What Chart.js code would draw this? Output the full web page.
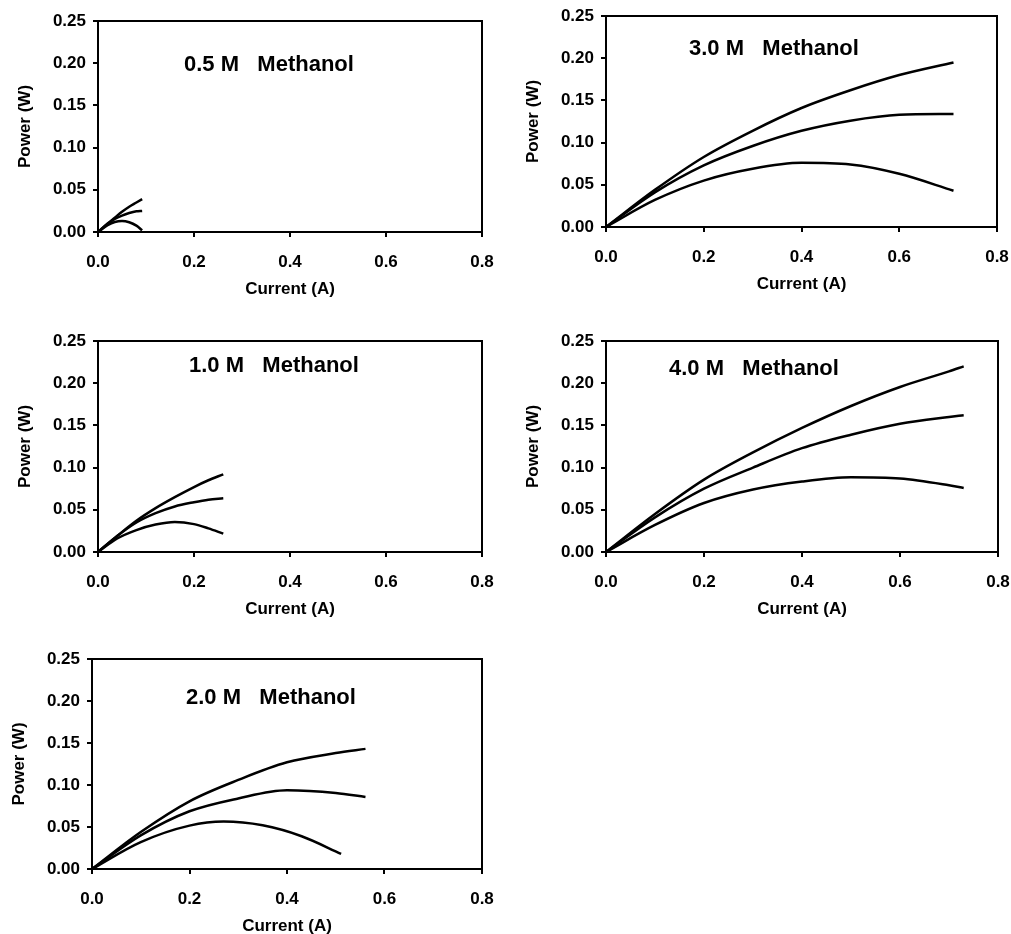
<!DOCTYPE html>
<html>
<head>
<meta charset="utf-8">
<script src="https://cdn.jsdelivr.net/npm/chart.js@4.4.1/dist/chart.umd.min.js"></script>
<style>
    html, body { margin: 0; padding: 0; background: #fff; overflow: hidden; width: 1011px; height: 934px; }
    canvas { position: absolute; }
</style>
</head>
<body>
<canvas id="c05"></canvas>
<canvas id="c10"></canvas>
<canvas id="c20"></canvas>
<canvas id="c30"></canvas>
<canvas id="c40"></canvas>
<script>
// Axis ticks
const currentTicks = [0, 0.2, 0.4, 0.6, 0.8];
const powerTicks = [0, 0.05, 0.10, 0.15, 0.20, 0.25];

// 0.5 M
const current05 = [0, 0.02, 0.035, 0.05, 0.065, 0.08, 0.092];
const power05High = [0, 0.010, 0.017, 0.024, 0.030, 0.035, 0.039];
const power05Mid = [0, 0.0095, 0.0155, 0.0195, 0.0225, 0.0245, 0.025];
const power05Low = [0, 0.008, 0.0118, 0.013, 0.0115, 0.0075, 0.002];

// 1.0 M
const current10 = [0, 0.04, 0.08, 0.12, 0.16, 0.2, 0.23, 0.261];
const power10High = [0, 0.019, 0.037, 0.052, 0.065, 0.077, 0.085, 0.092];
const power10Mid = [0, 0.019, 0.035, 0.046, 0.054, 0.059, 0.062, 0.0636];
const power10Low = [0, 0.016, 0.026, 0.0325, 0.0355, 0.033, 0.028, 0.0218];

// 2.0 M
const current20 = [0, 0.1, 0.2, 0.3, 0.4, 0.5, 0.561];
const power20High = [0, 0.044, 0.0806, 0.106, 0.127, 0.138, 0.143];
const power20Mid = [0, 0.040, 0.0687, 0.084, 0.0937, 0.0905, 0.0857];
const current20Low = [0, 0.1, 0.2, 0.27, 0.35, 0.43, 0.511];
const power20Low = [0, 0.032, 0.0516, 0.0565, 0.052, 0.039, 0.018];

// 3.0 M
const current30 = [0, 0.1, 0.2, 0.3, 0.4, 0.5, 0.6, 0.711];
const power30High = [0, 0.044, 0.083, 0.114, 0.141, 0.162, 0.180, 0.195];
const power30Mid = [0, 0.041, 0.073, 0.096, 0.114, 0.126, 0.133, 0.134];
const power30Low = [0, 0.032, 0.055, 0.069, 0.076, 0.074, 0.063, 0.043];

// 4.0 M
const current40 = [0, 0.1, 0.2, 0.3, 0.4, 0.5, 0.6, 0.7, 0.73];
const power40High = [0, 0.045, 0.0857, 0.118, 0.147, 0.173, 0.1955, 0.214, 0.220];
const power40Mid = [0, 0.041, 0.075, 0.100, 0.123, 0.139, 0.152, 0.160, 0.162];
const power40Low = [0, 0.032, 0.058, 0.074, 0.0835, 0.0885, 0.087, 0.079, 0.0758];

const FONT = 'Arial, "Liberation Sans", Helvetica, sans-serif';
const Y_AXIS_W = 90;
const X_AXIS_H = 70;
const PAD_TOP = 24;
const PAD_RIGHT = 32;

// panel layout: plot area position and size on the page
const panels = [
    { id: 'c05', label: '0.5 M   Methanol', left: 98, top: 21, w: 384, h: 211, dx: 86, dy: 44,
      curves: [[current05, power05High], [current05, power05Mid], [current05, power05Low]] },
    { id: 'c10', label: '1.0 M   Methanol', left: 98, top: 341, w: 384, h: 211, dx: 91, dy: 25,
      curves: [[current10, power10High], [current10, power10Mid], [current10, power10Low]] },
    { id: 'c20', label: '2.0 M   Methanol', left: 92, top: 659, w: 390, h: 210, dx: 94, dy: 39,
      curves: [[current20, power20High], [current20, power20Mid], [current20Low, power20Low]] },
    { id: 'c30', label: '3.0 M   Methanol', left: 606, top: 16, w: 391, h: 211, dx: 83, dy: 33,
      curves: [[current30, power30High], [current30, power30Mid], [current30, power30Low]] },
    { id: 'c40', label: '4.0 M   Methanol', left: 606, top: 341, w: 392, h: 211, dx: 63, dy: 28,
      curves: [[current40, power40High], [current40, power40Mid], [current40, power40Low]] }
];

// box around plot area + label inside it
const framePlugin = {
    id: 'frame',
    afterDraw(chart, args, opts) {
        const { ctx, chartArea: a } = chart;
        ctx.save();
        ctx.strokeStyle = '#000';
        ctx.lineWidth = 2;
        ctx.strokeRect(a.left, a.top, a.right - a.left, a.bottom - a.top);
        ctx.fillStyle = '#000';
        ctx.font = 'bold 22px ' + FONT;
        ctx.textAlign = 'left';
        ctx.textBaseline = 'middle';
        ctx.fillText(opts.text, a.left + opts.dx, a.top + opts.dy);
        ctx.restore();
    }
};

function tickFont() {
    return { family: FONT, size: 17, weight: 'bold' };
}

panels.forEach(p => {
    const canvas = document.getElementById(p.id);
    const cw = Y_AXIS_W + p.w + PAD_RIGHT;
    const ch = PAD_TOP + p.h + X_AXIS_H;
    canvas.width = cw;
    canvas.height = ch;
    canvas.style.width = cw + 'px';
    canvas.style.height = ch + 'px';
    canvas.style.left = (p.left - Y_AXIS_W) + 'px';
    canvas.style.top = (p.top - PAD_TOP) + 'px';

    const datasets = p.curves.map(([xs, ys]) => ({
        data: xs.map((x, i) => ({ x: x, y: ys[i] })),
        borderColor: '#000',
        borderWidth: 2.5,
        pointRadius: 0,
        fill: false,
        cubicInterpolationMode: 'monotone'
    }));

    new Chart(canvas.getContext('2d'), {
        type: 'line',
        data: { datasets: datasets },
        plugins: [framePlugin],
        options: {
            responsive: false,
            animation: false,
            devicePixelRatio: 1,
            layout: { padding: { left: 0, top: PAD_TOP, right: PAD_RIGHT, bottom: 0 } },
            plugins: {
                legend: { display: false },
                tooltip: { enabled: false },
                frame: { text: p.label, dx: p.dx, dy: p.dy }
            },
            scales: {
                x: {
                    type: 'linear',
                    min: currentTicks[0],
                    max: currentTicks[currentTicks.length - 1],
                    afterBuildTicks: s => { s.ticks = currentTicks.map(v => ({ value: v })); },
                    afterFit: s => { s.height = X_AXIS_H; },
                    ticks: {
                        color: '#000',
                        font: tickFont(),
                        padding: 15,
                        maxRotation: 0,
                        autoSkip: false,
                        callback: v => Number(v).toFixed(1)
                    },
                    grid: { drawOnChartArea: false, drawTicks: true, tickLength: 5, color: '#000', lineWidth: 2 },
                    border: { display: false },
                    title: {
                        display: true,
                        text: 'Current (A)',
                        color: '#000',
                        font: tickFont(),
                        padding: { top: 0, bottom: 2 }
                    }
                },
                y: {
                    type: 'linear',
                    min: powerTicks[0],
                    max: powerTicks[powerTicks.length - 1],
                    afterBuildTicks: s => { s.ticks = powerTicks.map(v => ({ value: v })); },
                    afterFit: s => { s.width = Y_AXIS_W; },
                    ticks: {
                        color: '#000',
                        font: tickFont(),
                        padding: 7,
                        callback: v => Number(v).toFixed(2)
                    },
                    grid: { drawOnChartArea: false, drawTicks: true, tickLength: 5, color: '#000', lineWidth: 2 },
                    border: { display: false },
                    title: {
                        display: true,
                        text: 'Power (W)',
                        color: '#000',
                        font: tickFont(),
                        padding: { top: 7, bottom: 0 }
                    }
                }
            }
        }
    });
});
</script>
</body>
</html>
